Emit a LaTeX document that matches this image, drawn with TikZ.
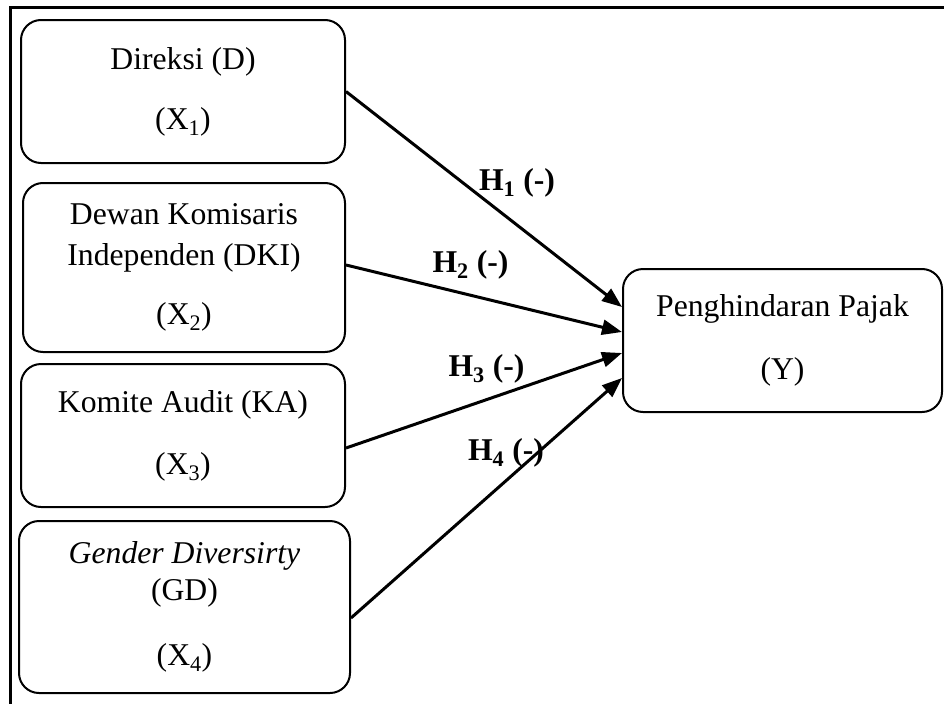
\documentclass[tikz,border=0pt]{standalone}
\usepackage{fontspec}
\setmainfont{Liberation Serif}
\usetikzlibrary{arrows.meta}
\begin{document}
\begin{tikzpicture}[x=1pt,y=-1pt,
  box/.style={draw, line width=2pt, rounded corners=20pt, align=center, inner sep=0pt,
    font=\fontsize{31.7}{37}\selectfont},
  lbl/.style={font=\fontsize{31.7}{37}\selectfont\bfseries, inner sep=0pt, anchor=base},
  arr/.style={line width=3pt, -{Triangle[length=20pt,width=15pt]}},
  frame/.style={line width=3pt}]
\useasboundingbox (0,0) rectangle (944,704);
\coordinate (fr1) at (944,7.5);
\coordinate (fr2) at (10.5,7.5);
\coordinate (fr3) at (10.5,704);
\draw[frame] (fr1) -- (fr2) -- (fr3);

\node[box, minimum width=324pt, minimum height=143pt] (d) at (183,91.5)
  {Direksi (D)\\[23pt](X\textsubscript{1})};
\node[box, minimum width=322pt, minimum height=169pt] (dki) at (184,267.5)
  {Dewan Komisaris\\[4pt]Independen (DKI)\\[22pt](X\textsubscript{2})};
\node[box, minimum width=324pt, minimum height=143pt] (ka) at (183,435.5)
  {Komite Audit (KA)\\[25pt](X\textsubscript{3})};
\node[box, minimum width=331pt, minimum height=172pt] (gd) at (184.5,607)
  {\textit{Gender Diversirty}\\(GD)\\[28pt](X\textsubscript{4})};
\node[box, minimum width=319pt, minimum height=143pt] (y) at (782.5,340.5)
  {Penghindaran Pajak\\[26pt](Y)};

\draw[arr] (d.east) -- ([yshift=33.5pt]y.west);
\draw[arr] ([yshift=2.5pt]dki.east) -- ([yshift=8.5pt]y.west);
\draw[arr] ([yshift=-12.5pt]ka.east) -- ([yshift=-12.5pt]y.west);
\draw[arr] ([yshift=-11pt]gd.east) -- ([yshift=-37.5pt]y.west);

\node[lbl] (h1) at (517,190) {H\textsubscript{1} (-)};
\node[lbl] (h2) at (470.5,272) {H\textsubscript{2} (-)};
\node[lbl] (h3) at (486.5,376) {H\textsubscript{3} (-)};
\node[lbl] (h4) at (506,460) {H\textsubscript{4} (-)};
\end{tikzpicture}
\end{document}
